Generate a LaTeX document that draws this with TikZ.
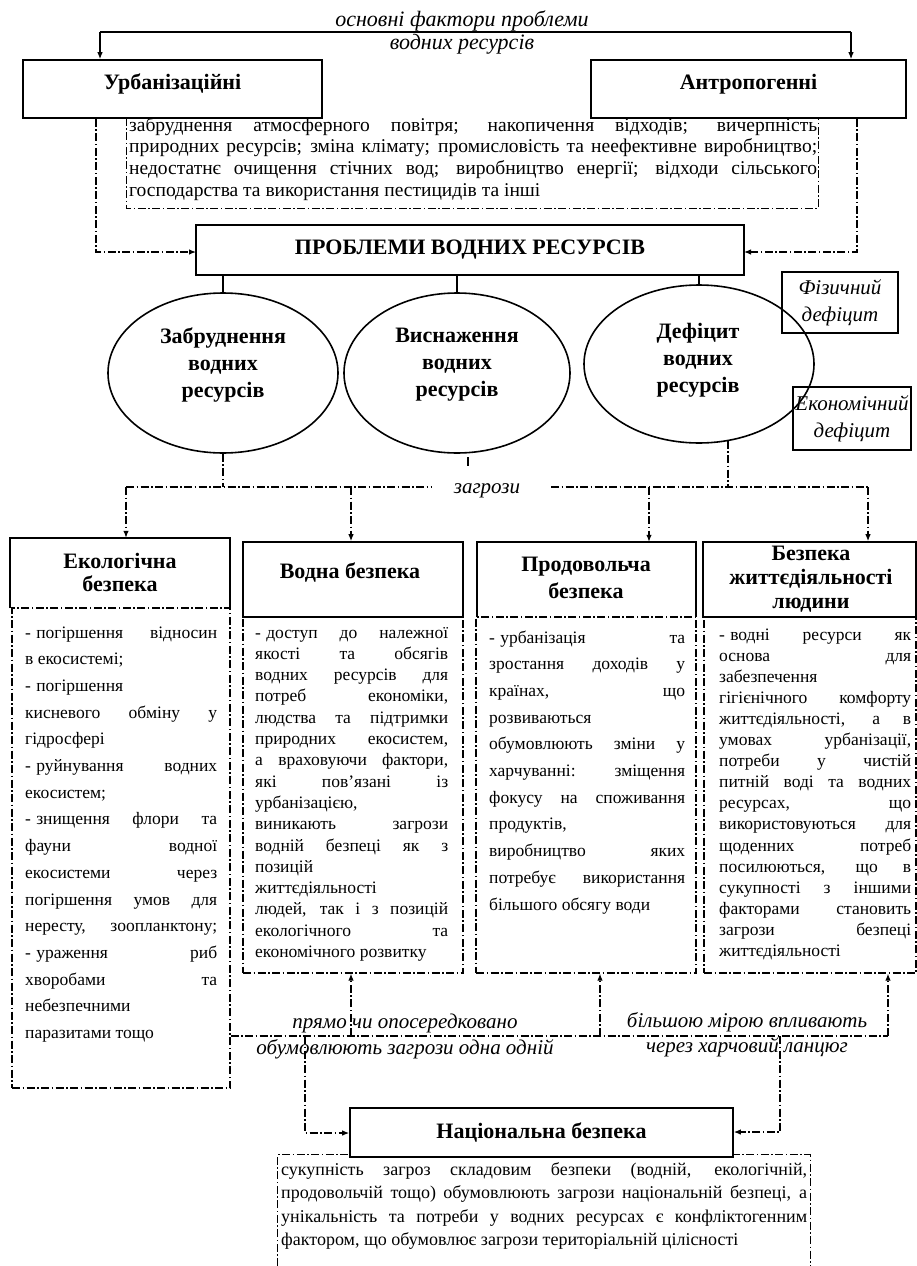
\documentclass[tikz,border=0pt]{standalone}
\usepackage{fontspec}
\setmainfont{Liberation Serif}
\usetikzlibrary{arrows.meta,shapes.geometric}
\newcommand{\bt}[4]{\parbox[t]{#1}{\fontsize{#4}{#2}\selectfont #3}}
\newcommand{\J}[1]{\makebox[\linewidth][s]{#1}\par}
\newcommand{\R}[1]{#1\par}
\newcommand{\D}{-\hspace{0.3em}}
\begin{document}
\begin{tikzpicture}[x=1pt,y=-1pt,
  sl/.style={line width=1.6pt},
  solidbox/.style={draw,line width=1.6pt,inner sep=0pt},
  plain/.style={inner sep=0pt},
  ddot/.style={line width=1.2pt,dash pattern=on 8pt off 2.5pt on 1.5pt off 2.5pt},
  ddbox/.style={draw,ddot,inner sep=0pt},
  arr/.style={-{Latex[length=7pt,width=5.5pt]}},
  hf/.style={font=\fontsize{22}{26}\selectfont\bfseries,align=center,inner sep=0pt},
  itl/.style={font=\fontsize{21}{26}\selectfont\itshape,align=center,inner sep=0pt},
  ]
\useasboundingbox (0,0) rectangle (916,1266);

% ---------- factors text box ----------
\node[plain,minimum width=691pt,minimum height=90pt] (fbox) at (472.5,163) {};
\draw[ddot] (fbox.north west) -- (fbox.south west) -- (fbox.south east) -- (fbox.north east);
\node[plain,anchor=base west] (ftext) at (129,131) {\bt{688pt}{21.8pt}{%
\J{забруднення атмосферного повітря; накопичення відходів; вичерпність}
\J{природних ресурсів; зміна клімату; промисловість та неефективне виробництво;}
\J{недостатнє очищення стічних вод; виробництво енергії; відходи сільського}
\R{господарства та використання пестицидів та інші}}{19.5}};

% ---------- top ----------
\node[solidbox,fill=white,minimum width=299pt,minimum height=58pt,font=\fontsize{22}{26}\selectfont\bfseries,text height=11pt,text depth=11pt] (urb) at (172.5,89) {Урбанізаційні};
\node[solidbox,fill=white,minimum width=315pt,minimum height=58pt,font=\fontsize{22}{26}\selectfont\bfseries,text height=11pt,text depth=11pt] (antr) at (748.5,89) {Антропогенні};
\coordinate (tl) at (100,32);
\coordinate (tr) at (851,32);
\draw[line width=1.2pt] (tl) -- (tr);
\draw[line width=1.2pt,arr] (tl) -- (tl |- urb.north);
\draw[line width=1.2pt,arr] (tr) -- (tr |- antr.north);
\node[itl,font=\fontsize{22}{23}\selectfont\itshape] (toplbl) at (462,32.5) {основні фактори проблеми\\водних ресурсів};

% ---------- problems ----------
\coordinate (ul) at (96,252);
\coordinate (ur) at (857,252);
\draw[ddot,arr] (ul |- urb.south) -- (ul) -- (ul -| 196,0);
\draw[ddot,arr] (ur |- antr.south) -- (ur) -- (ur -| 744,0);
\node[solidbox,fill=white,minimum width=548pt,minimum height=50pt,font=\fontsize{22}{26}\selectfont\bfseries] (pr) at (470,250) {ПРОБЛЕМИ ВОДНИХ РЕСУРСІВ};

% ---------- ellipses ----------
\node[draw,ellipse,line width=1.6pt,minimum width=230pt,minimum height=160pt,inner sep=0pt] (e1) at (223,373) {};
\node[draw,ellipse,line width=1.6pt,minimum width=226pt,minimum height=160pt,inner sep=0pt] (e2) at (457,373) {};
\node[draw,ellipse,line width=1.6pt,minimum width=230pt,minimum height=158pt,inner sep=0pt] (e3) at (699,364) {};
\node[hf,font=\fontsize{22}{27}\selectfont\bfseries] (e1t) at (223,365) {Забруднення\\водних\\ресурсів};
\node[hf,font=\fontsize{22}{27}\selectfont\bfseries] (e2t) at (457,365) {Виснаження\\водних\\ресурсів};
\node[hf,font=\fontsize{22}{27}\selectfont\bfseries] (e3t) at (698,360) {Дефіцит\\водних\\ресурсів};
\draw[line width=1.2pt] (e1.north |- pr.south) -- (e1.north);
\draw[line width=1.2pt] (e2.north |- pr.south) -- (e2.north);
\draw[line width=1.2pt] (e3.north |- pr.south) -- (e3.north);

\node[solidbox,minimum width=116pt,minimum height=61pt,itl,font=\fontsize{21}{27}\selectfont\itshape] (fiz) at (840,302.5) {Фізичний\\дефіцит};
\node[solidbox,minimum width=118pt,minimum height=63pt,itl,font=\fontsize{21}{27}\selectfont\itshape] (eko) at (852,418.5) {Економічний\\дефіцит};

% ---------- threats ----------
\node[itl] (thr) at (487,491) {загрози};
\coordinate (tL) at (126,487);
\coordinate (tLe) at (432,487);
\coordinate (tRs) at (551,487);
\coordinate (tR) at (868,487);
\coordinate (a2) at (351,487);
\coordinate (a3) at (649,487);
\coordinate (e3b) at (728,440.5);
\coordinate (e2b) at (468,457);
\draw[ddot] (tL) -- (tLe);
\draw[ddot] (tRs) -- (tR);
\draw[ddot] (e1.south) -- (e1.south |- tL);
\draw[ddot] (e3b) -- (e3b |- tR);
\draw[line width=1.2pt] (e2b) -- ++(0,9);

% ---------- columns ----------
\node[ddbox,minimum width=218pt,minimum height=480pt] (ekb) at (121,848) {};
\node[ddbox,minimum width=220pt,minimum height=356pt] (vdb) at (353,795) {};
\node[ddbox,minimum width=220pt,minimum height=356pt] (prb) at (586,795) {};
\node[ddbox,minimum width=212pt,minimum height=356pt] (bzb) at (810,795) {};

\node[plain,minimum width=220pt,minimum height=70pt] (ekh) at (120,573) {};
\draw[sl] (ekh.south west) -- (ekh.north west) -- (ekh.north east) -- (ekh.south east);
\node[solidbox,minimum width=220pt,minimum height=75pt] (vdh) at (353,579.5) {};
\node[plain,minimum width=219pt,minimum height=75pt] (prh) at (586.5,579.5) {};
\draw[sl] (prh.south west) -- (prh.north west) -- (prh.north east) -- (prh.south east);
\node[solidbox,minimum width=213pt,minimum height=75pt] (bzh) at (809.5,579.5) {};

\node[hf,font=\fontsize{22}{23}\selectfont\bfseries] (ekt) at (120,572) {Екологічна\\безпека};
\node[hf] (vdt) at (350,573) {Водна безпека};
\node[hf,font=\fontsize{22}{27}\selectfont\bfseries] (prt) at (586,578) {Продовольча\\безпека};
\node[hf,font=\fontsize{22}{24}\selectfont\bfseries] (bzt) at (811,579) {Безпека\\життєдіяльності\\людини};

\draw[ddot,arr] (tL) -- (tL |- ekh.north);
\draw[ddot,arr] (a2) -- (a2 |- vdh.north);
\draw[ddot,arr] (a3) -- (a3 |- prh.north);
\draw[ddot,arr] (tR) -- (tR |- bzh.north);

\node[plain,anchor=base west] (ektx) at (25,638) {\bt{192pt}{26.7pt}{%
\J{\D погіршення відносин}
\R{в екосистемі;}
\R{\D погіршення}
\J{кисневого обміну у}
\R{гідросфері}
\J{\D руйнування водних}
\R{екосистем;}
\J{\D знищення флори та}
\J{фауни водної}
\J{екосистеми через}
\J{погіршення умов для}
\J{нересту, зоопланктону;}
\J{\D ураження риб}
\J{хворобами та}
\R{небезпечними}
\R{паразитами тощо}}{17.5}};

\node[plain,anchor=base west] (vdtx) at (255,638) {\bt{193pt}{21.3pt}{%
\J{\D доступ до належної}
\J{якості та обсягів}
\J{водних ресурсів для}
\J{потреб економіки,}
\J{людства та підтримки}
\J{природних екосистем,}
\J{а враховуючи фактори,}
\J{які пов’язані із}
\R{урбанізацією,}
\J{виникають загрози}
\J{водній безпеці як з}
\R{позицій}
\R{життєдіяльності}
\J{людей, так і з позицій}
\J{екологічного та}
\R{економічного розвитку}}{17.5}};

\node[plain,anchor=base west] (prtx) at (489,643) {\bt{196pt}{26.7pt}{%
\J{\D урбанізація та}
\J{зростання доходів у}
\J{країнах, що}
\R{розвиваються}
\J{обумовлюють зміни у}
\J{харчуванні: зміщення}
\J{фокусу на споживання}
\R{продуктів,}
\J{виробництво яких}
\J{потребує використання}
\R{більшого обсягу води}}{17.5}};

\node[plain,anchor=base west] (bztx) at (719,640) {\bt{192pt}{21.1pt}{%
\J{\D водні ресурси як}
\J{основа для}
\R{забезпечення}
\J{гігієнічного комфорту}
\J{життєдіяльності, а в}
\J{умовах урбанізації,}
\J{потреби у чистій}
\J{питній воді та водних}
\J{ресурсах, що}
\J{використовуються для}
\J{щоденних потреб}
\J{посилюються, що в}
\J{сукупності з іншими}
\J{факторами становить}
\J{загрози безпеці}
\R{життєдіяльності}}{17.5}};

% ---------- lower connectors ----------
\coordinate (h1) at (351,1036);
\coordinate (h2) at (600,1036);
\coordinate (h3) at (888,1036);
\coordinate (d1) at (305,1036);
\coordinate (d1b) at (305,1133);
\coordinate (d2) at (780,1036);
\coordinate (d2b) at (780,1132);
\draw[ddot] (ekb.east |- h1) -- (h3);
\draw[ddot,arr] (h1) -- (h1 |- vdb.south);
\draw[ddot,arr] (h2) -- (h2 |- prb.south);
\draw[ddot,arr] (h3) -- (h3 |- bzb.south);

\node[itl] (lblA) at (405,1036) {прямо чи опосередковано\\обумовлюють загрози одна одній};
\node[itl,font=\fontsize{21}{25}\selectfont\itshape] (lblB) at (747,1034.5) {більшою мірою впливають\\через харчовий ланцюг};

% ---------- national ----------
\node[plain,minimum width=532pt,minimum height=111pt] (nbox) at (544,1210.5) {};
\draw[ddot] (nbox.south west) -- (nbox.north west) -- (nbox.north east) -- (nbox.south east);
\node[solidbox,fill=white,minimum width=383pt,minimum height=49pt,font=\fontsize{22}{26}\selectfont\bfseries] (nb) at (541.5,1132.5) {Національна безпека};
\draw[ddot,arr] (d1) -- (d1b) -- (d1b -| nb.west);
\draw[ddot,arr] (d2) -- (d2b) -- (d2b -| nb.east);
\node[plain,anchor=base west] (nbtx) at (281,1175) {\bt{526pt}{23.5pt}{%
\J{сукупність загроз складовим безпеки (водній, екологічній,}
\J{продовольчій тощо) обумовлюють загрози національній безпеці, а}
\J{унікальність та потреби у водних ресурсах є конфліктогенним}
\R{фактором, що обумовлює загрози територіальній цілісності}}{18}};
\end{tikzpicture}
\end{document}
